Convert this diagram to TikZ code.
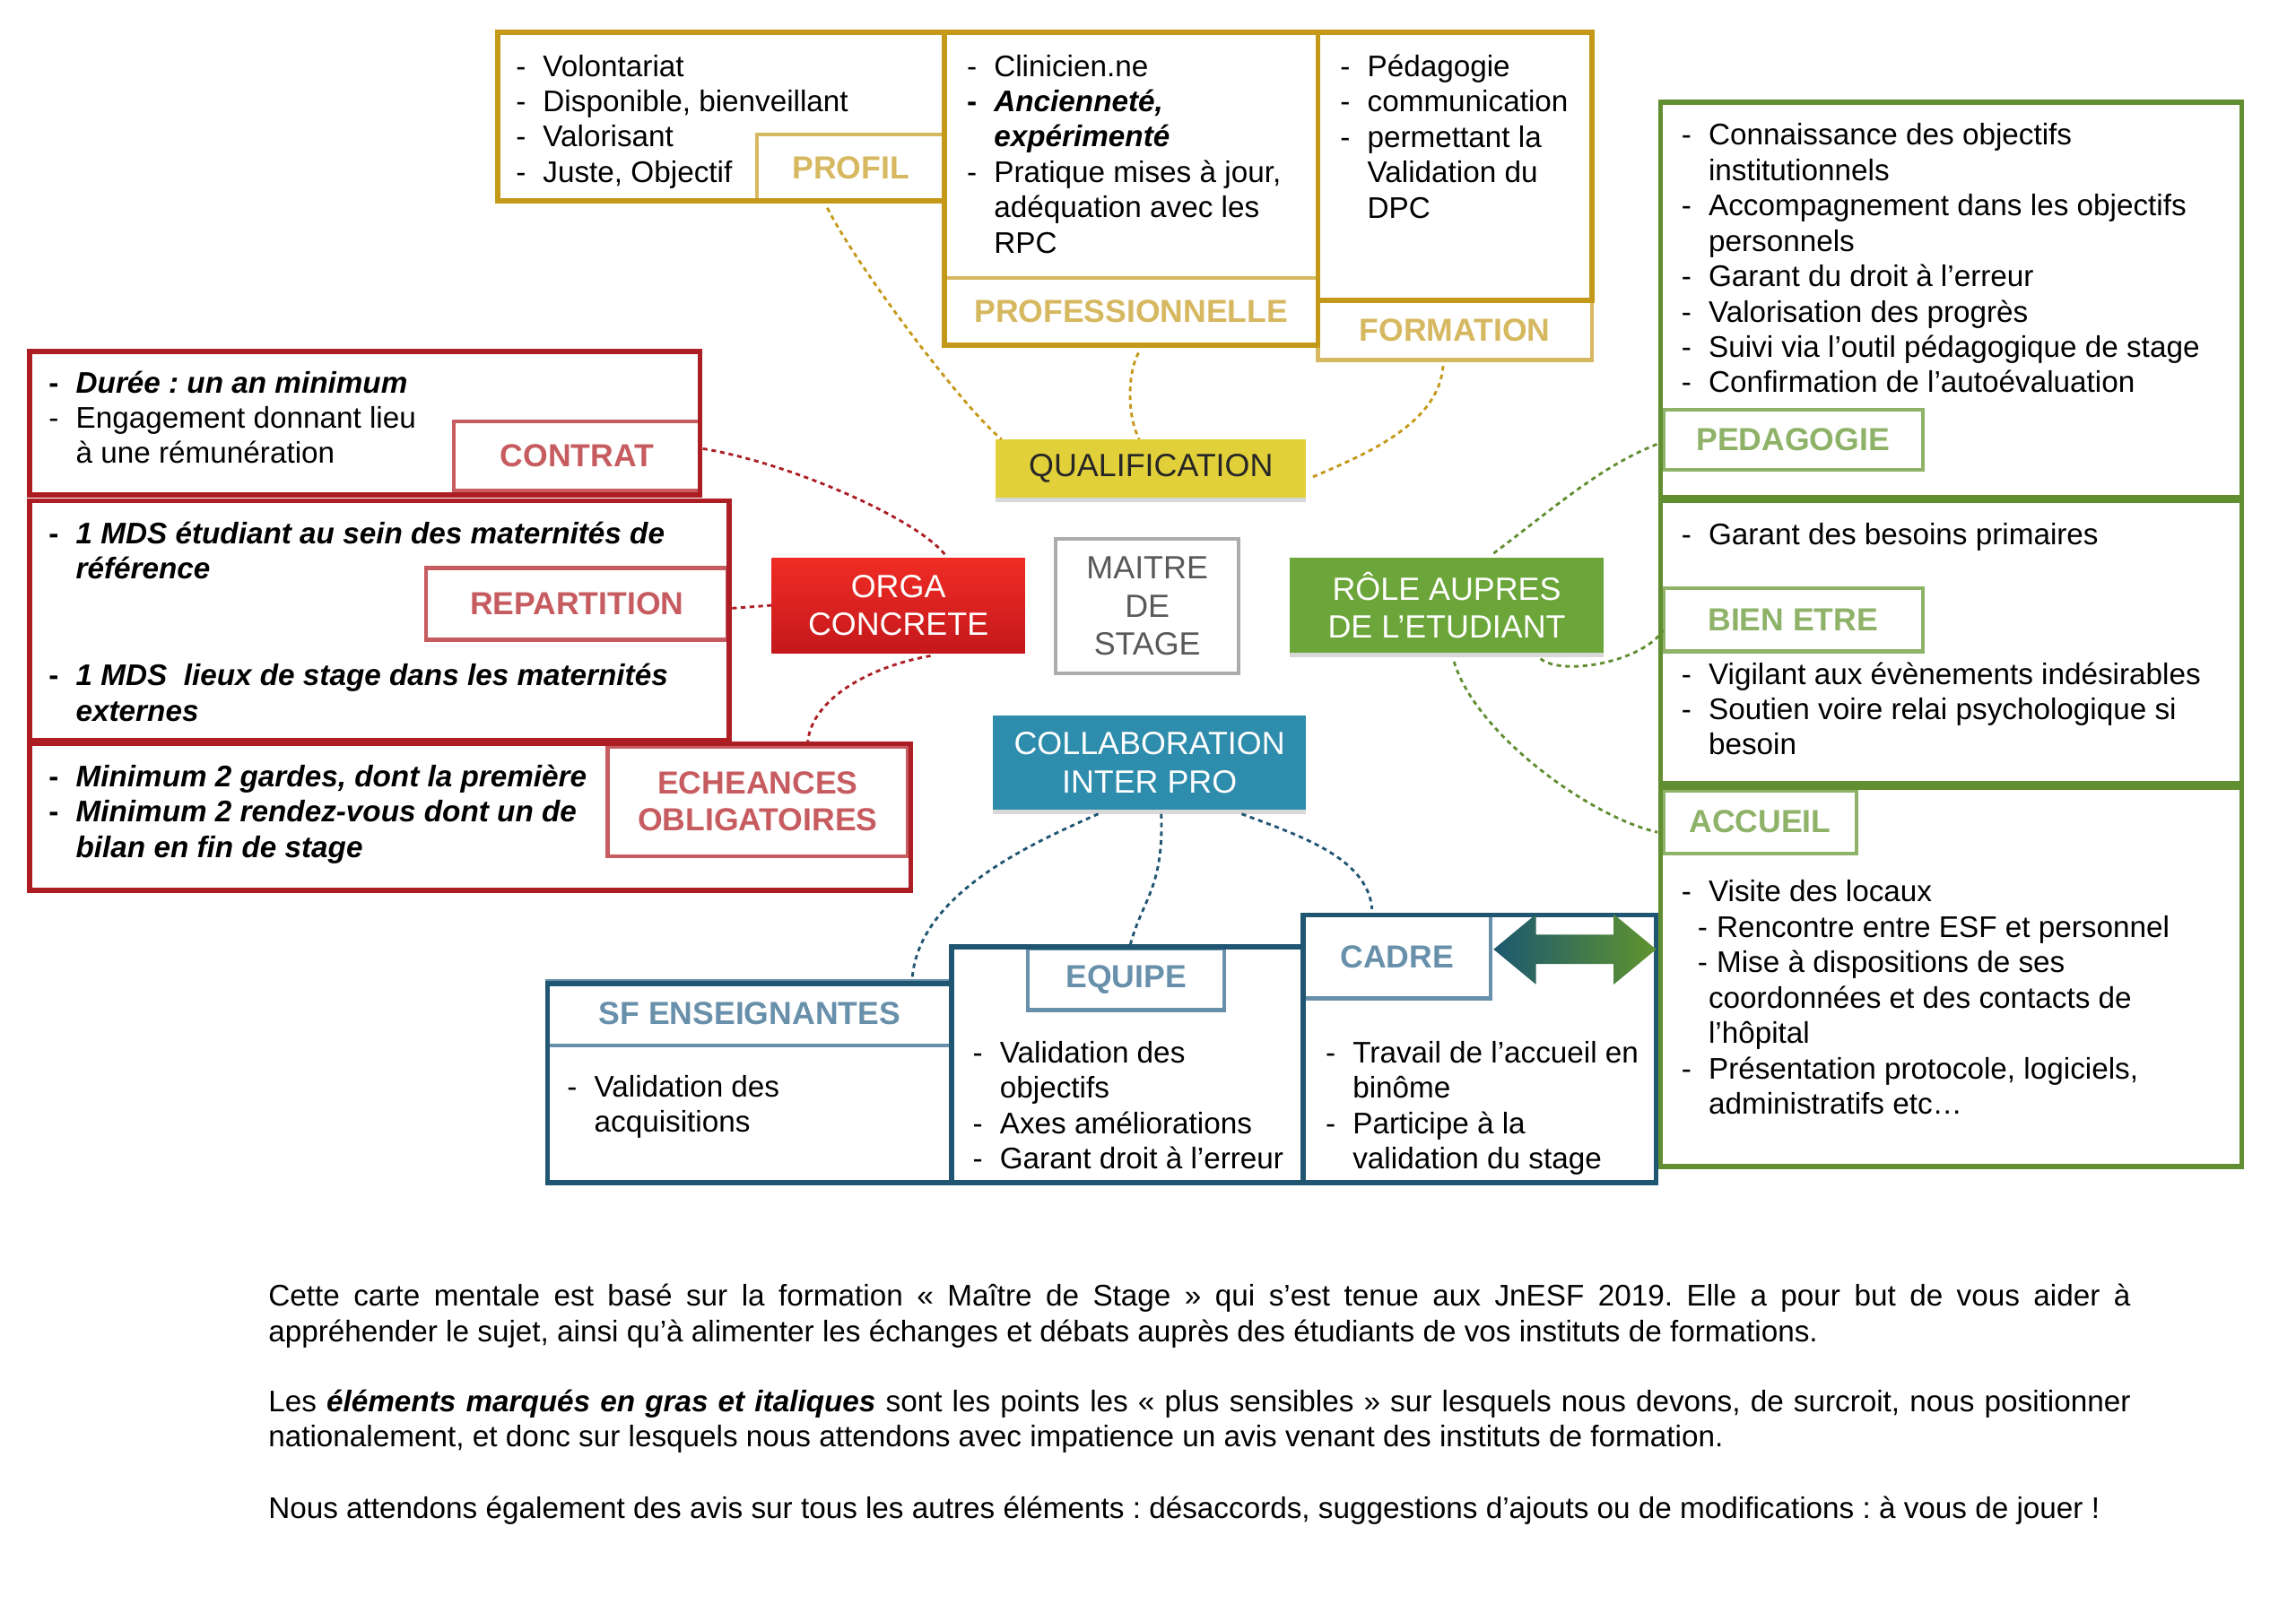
\documentclass[tikz,border=0pt]{standalone}
\usepackage{fontspec}
\setmainfont{Liberation Sans}
\usetikzlibrary{fit,calc,shadows}

\definecolor{golddk}{RGB}{196,152,24}
\definecolor{goldlt}{RGB}{214,184,96}
\definecolor{reddk}{RGB}{172,30,36}
\definecolor{redlt}{RGB}{198,92,96}
\definecolor{greendk}{RGB}{98,142,50}
\definecolor{greenlt}{RGB}{142,178,104}
\definecolor{bluedk}{RGB}{32,86,114}
\definecolor{bluelt}{RGB}{104,144,170}
\definecolor{qualyellow}{RGB}{226,208,58}
\definecolor{rolegreen}{RGB}{108,166,58}
\definecolor{collabblue}{RGB}{46,140,172}
\definecolor{orgatop}{RGB}{240,44,36}
\definecolor{orgabot}{RGB}{196,24,28}
\definecolor{arrowl}{RGB}{28,88,112}
\definecolor{arrowr}{RGB}{96,148,46}

\hyphenpenalty=10000
\exhyphenpenalty=10000
\frenchspacing

\newcommand{\itemfont}{\fontsize{11.6pt}{13.75pt}\selectfont}
\newcommand{\labfont}{\fontsize{12.4pt}{14.2pt}\selectfont\bfseries}
\newcommand{\hubfont}{\fontsize{12.5pt}{14.8pt}\selectfont}
\newcommand{\itm}{\makebox[0.37cm][l]{-}}
\newcommand{\bitm}{\makebox[0.37cm][l]{\bfseries -}}
\newcommand{\cnt}{\hspace*{0.37cm}}
\newcommand{\gras}[1]{\textbf{\textit{#1}}}

\tikzset{
  boxsize/.style 2 args={minimum width=#1*0.02cm, minimum height=#2*0.02cm},
  outerbox/.style={draw=#1, line width=2pt, inner sep=0pt, outer sep=0pt},
  labelbox/.style={draw=#1, text=#1, fill=white, line width=1.5pt, inner sep=0pt, outer sep=0pt, align=center, font=\labfont},
  items/.style={anchor=north west, align=left, inner sep=0pt, font=\itemfont\frenchspacing, execute at begin node=\strut},
  hubnode/.style={inner sep=0pt, outer sep=0pt, align=center, font=\hubfont, text=white},
  hubshadow/.style={drop shadow={shadow xshift=0pt, shadow yshift=-0.06cm, opacity=0.25, fill=black!60}},
  conn/.style={draw=#1, line width=1pt, dash pattern=on 1.8pt off 1.6pt},
  para/.style={anchor=north west, inner sep=0pt, text width=25.44cm, align=justify, font=\itemfont\frenchspacing, execute at begin node=\strut}
}

\begin{document}
\begin{tikzpicture}[x=0.02cm, y=-0.02cm]
    \path[use as bounding box, fill=white] (0,0) rectangle (1568,1108);

    % Qualification: labels
    \node[labelbox=goldlt, boxsize={128}{45}] (profil) at (581,114.5) {PROFIL};
    \node[labelbox=goldlt, boxsize={255}{46}] (prof) at (772.5,213) {PROFESSIONNELLE};
    \node[labelbox=goldlt, boxsize={187}{41}] (formation) at (993.5,225.5) {FORMATION};
    % Qualification: boxes
    \node[outerbox=golddk, fit={(340,22) (645,137)}] (profilbox) {};
    \node[outerbox=golddk, fit={(645,22) (900,236)}] (profbox) {};
    \node[outerbox=golddk, fit={(900,22) (1087,205)}] (formationbox) {};

    % Orga concrete: labels
    \node[labelbox=redlt, boxsize={168}{47}] (contrat) at (394,311.5) {CONTRAT};
    \node[labelbox=redlt, boxsize={206}{49}] (repart) at (394,412.5) {REPARTITION};
    \node[labelbox=redlt, boxsize={205}{75}] (echeances) at (517.5,547.5) {ECHEANCES\\OBLIGATOIRES};
    % Orga concrete: boxes
    \node[outerbox=reddk, fit={(20,240) (478,338)}] (contratbox) {};
    \node[outerbox=reddk, fit={(20,342) (498,506)}] (repartbox) {};
    \node[outerbox=reddk, fit={(20,508) (622,608)}] (echeancesbox) {};

    % Role aupres de l'etudiant: labels
    \node[labelbox=greenlt, boxsize={177}{41}] (peda) at (1224.5,300.5) {PEDAGOGIE};
    \node[labelbox=greenlt, boxsize={177}{43}] (bien) at (1224.5,423.5) {BIEN ETRE};
    \node[labelbox=greenlt, boxsize={132}{43}] (accueil) at (1202,561.5) {ACCUEIL};
    % Role aupres de l'etudiant: boxes
    \node[outerbox=greendk, fit={(1134,70) (1531,340)}] (pedabox) {};
    \node[outerbox=greendk, fit={(1134,342) (1531,535)}] (bienbox) {};
    \node[outerbox=greendk, fit={(1134,538) (1531,797)}] (accbox) {};

    % Collaboration inter pro: labels
    \node[labelbox=bluelt, boxsize={276}{44}] (sf) at (512,692) {SF ENSEIGNANTES};
    \node[labelbox=bluelt, boxsize={134}{42}] (equipe) at (769,669) {EQUIPE};
    \node[labelbox=bluelt, boxsize={128}{57}] (cadre) at (954,653.5) {CADRE};
    % Collaboration inter pro: boxes
    \node[outerbox=bluedk, fit={(374,672) (650,808)}] (sfbox) {};
    \node[outerbox=bluedk, fit={(650,647) (890,808)}] (equipebox) {};
    \node[outerbox=bluedk, fit={(890,625) (1131,808)}] (cadrebox) {};

    % Hubs
    \node[hubnode, hubshadow, fill=qualyellow, text=black!85, boxsize={212}{40}] (qual) at (786,320) {QUALIFICATION};
    \node[hubnode, top color=orgatop, bottom color=orgabot, boxsize={173}{65}] (orga) at (613.5,413.5) {ORGA\\CONCRETE};
    \node[draw=gray!65, line width=1.3pt, inner sep=0pt, align=center, font=\hubfont, text=black!65, boxsize={125}{92}] (maitre) at (783.5,414) {MAITRE\\DE\\STAGE};
    \node[hubnode, hubshadow, fill=rolegreen, boxsize={214}{65}] (role) at (988,413.5) {RÔLE AUPRES\\DE L’ETUDIANT};
    \node[hubnode, hubshadow, fill=collabblue, boxsize={214}{64}] (collab) at (785,521) {COLLABORATION\\INTER PRO};

    % Dotted links
    \draw[conn=golddk] ($(profil.south)+(-16,5)$) .. controls +(20,40) and +(-25,-20) .. ($(qual.north west)+(4,0)$);
    \draw[conn=golddk] ($(prof.south)+(5,5)$) .. controls +(-8,15) and +(-8,-15) .. ($(qual.north)+(-8,0)$);
    \draw[conn=golddk] ($(formation.south)+(-8,4)$) .. controls +(-3,40) and +(35,-15) .. ($(qual.east)+(4,6)$);

    \draw[conn=reddk] ($(contrat.east)+(2,-5)$) .. controls +(60,10) and +(-20,-25) .. ($(orga.north)+(32,-2)$);
    \draw[conn=reddk] ($(repart.east)+(3,3)$) -- (orga.west);
    \draw[conn=reddk] ($(orga.south)+(22,2)$) .. controls +(-45,8) and +(0,-30) .. ($(echeances.north)+(34,0)$);

    \draw[conn=greendk] ($(role.north)+(32,-3)$) .. controls +(40,-30) and +(-40,15) .. ($(peda.west)+(-2,2)$);
    \draw[conn=greendk] ($(role.south)+(64,4)$) .. controls +(15,12) and +(-15,22) .. ($(bien.west)+(0,7)$);
    \draw[conn=greendk] ($(role.south)+(5,6)$) .. controls +(15,50) and +(-45,-10) .. ($(accueil.west)+(-4,7)$);

    \draw[conn=bluedk] ($(collab.south)+(-35,3)$) .. controls +(-45,20) and +(5,-58) .. ($(sf.north)+(111,-2)$);
    \draw[conn=bluedk] ($(collab.south)+(8,3)$) .. controls +(2,50) and +(8,-30) .. ($(equipebox.north)+(2,-2)$);
    \draw[conn=bluedk] ($(collab.south)+(63,3)$) .. controls +(40,15) and +(-3,-35) .. ($(cadre.north)+(-17,-4)$);

    % Double arrow cadre <-> accueil
    \coordinate (arL) at ($(cadre.east)+(2,-5)$);
    \coordinate (arR) at ($(arL -| accbox.west)+(-3,0)$);
    \shade[left color=arrowl, right color=arrowr] (arL) -- ++(29,-24) -- ++(0,14) -- ($(arR)+(-29,-10)$) -- ++(0,-14) -- (arR)
        -- ++(-29,24) -- ++(0,-14) -- ($(arL)+(29,10)$) -- ++(0,14) -- cycle;

    % Items
    \node[items] (profilitems) at (352,37) {\itm Volontariat\\\itm Disponible, bienveillant\\\itm Valorisant\\\itm Juste, Objectif};
    \node[items] (profitems) at (660,37) {\itm Clinicien.ne\\\bitm\gras{Ancienneté,}\\\cnt\gras{expérimenté}\\\itm Pratique mises à jour,\\\cnt adéquation avec les\\\cnt RPC};
    \node[items] (formitems) at (915,37) {\itm Pédagogie\\\itm communication\\\itm permettant la\\\cnt Validation du\\\cnt DPC};

    \node[items] (contratitems) at (33,253) {\bitm\gras{Durée : un an minimum}\\\itm Engagement donnant lieu\\\cnt à une rémunération};
    \node[items] (repartitems) at (33,356) {\bitm\gras{1 MDS étudiant au sein des maternités de}\\\cnt\gras{référence}};
    \node[items] (repartitemsb) at (33,453) {\bitm\gras{1 MDS~ lieux de stage dans les maternités}\\\cnt\gras{externes}};
    \node[items] (echitems) at (33,522) {\bitm\gras{Minimum 2 gardes, dont la première}\\\bitm\gras{Minimum 2 rendez-vous dont un de}\\\cnt\gras{bilan en fin de stage}};

    \node[items] (pedaitems) at (1148,84) {\itm Connaissance des objectifs\\\cnt institutionnels\\\itm Accompagnement dans les objectifs\\\cnt personnels\\\itm Garant du droit à l’erreur\\\itm Valorisation des progrès\\\itm Suivi via l’outil pédagogique de stage\\\itm Confirmation de l’autoévaluation};
    \node[items] (bienitems) at (1148,355) {\itm Garant des besoins primaires};
    \node[items] (bienitemsb) at (1148,452) {\itm Vigilant aux évènements indésirables\\\itm Soutien voire relai psychologique si\\\cnt besoin};
    \node[items] (accitems) at (1148,601) {\itm Visite des locaux\\\hspace*{0.22cm}\makebox[0.26cm][l]{-}Rencontre entre ESF et personnel\\\hspace*{0.22cm}\makebox[0.26cm][l]{-}Mise à dispositions de ses\\\cnt coordonnées et des contacts de\\\cnt l’hôpital\\\itm Présentation protocole, logiciels,\\\cnt administratifs etc…};

    \node[items] (sfitems) at (387,734) {\itm Validation des\\\cnt acquisitions};
    \node[items] (equipeitems) at (664,711) {\itm Validation des\\\cnt objectifs\\\itm Axes améliorations\\\itm Garant droit à l’erreur};
    \node[items] (cadreitems) at (905,711) {\itm Travail de l’accueil en\\\cnt binôme\\\itm Participe à la\\\cnt validation du stage};

    % Notes below the map
    \node[para] (notea) at (183,875) {Cette carte mentale est basé sur la formation « Maître de Stage » qui s’est tenue aux JnESF 2019. Elle a pour but de vous aider à\linebreak appréhender le sujet, ainsi qu’à alimenter les échanges et débats auprès des étudiants de vos instituts de formations.};
    \node[para] (noteb) at (183,947) {Les \gras{éléments marqués en gras et italiques} sont les points les « plus sensibles » sur lesquels nous devons, de surcroit, nous positionner\linebreak nationalement, et donc sur lesquels nous attendons avec impatience un avis venant des instituts de formation.};
    \node[para] (notec) at (183,1020) {Nous attendons également des avis sur tous les autres éléments : désaccords, suggestions d’ajouts ou de modifications : à vous de jouer !};
\end{tikzpicture}
\end{document}
